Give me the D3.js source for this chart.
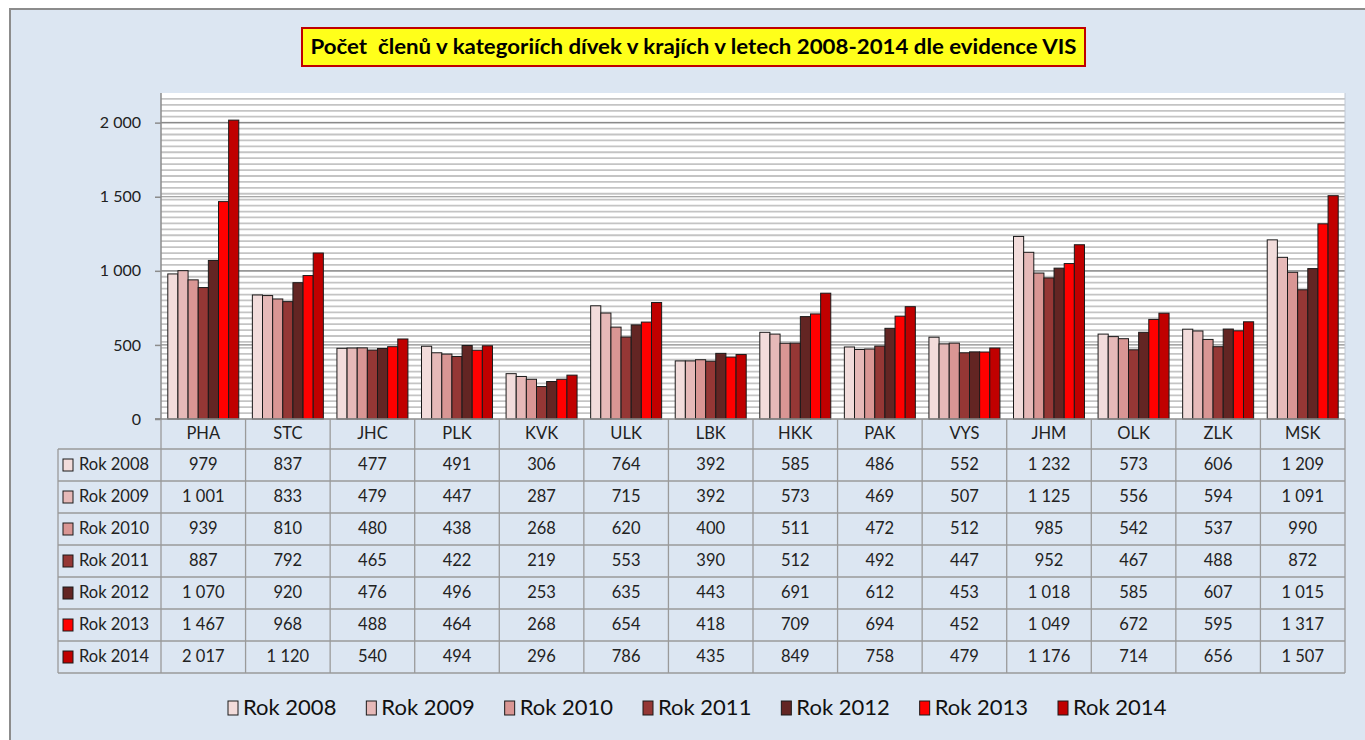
<!DOCTYPE html>
<html lang="cs">
<head>
<meta charset="UTF-8">
<script src="https://d3js.org/d3.v7.min.js"></script>
<title>Počet členů v kategoriích dívek</title>
<style>
    body { margin: 0; background: #ffffff; }
    svg { display: block; font-family: Lato, "Liberation Sans", sans-serif; }
</style>
</head>
<body>
<div id="chart"></div>
<script>
    // regions (kraje)
    const regions = ["PHA", "STC", "JHC", "PLK", "KVK", "ULK", "LBK", "HKK", "PAK", "VYS", "JHM", "OLK", "ZLK", "MSK"];
    const years = ["Rok 2008", "Rok 2009", "Rok 2010", "Rok 2011", "Rok 2012", "Rok 2013", "Rok 2014"];

    // members per year, one value per region
    const rok2008 = [979, 837, 477, 491, 306, 764, 392, 585, 486, 552, 1232, 573, 606, 1209];
    const rok2009 = [1001, 833, 479, 447, 287, 715, 392, 573, 469, 507, 1125, 556, 594, 1091];
    const rok2010 = [939, 810, 480, 438, 268, 620, 400, 511, 472, 512, 985, 542, 537, 990];
    const rok2011 = [887, 792, 465, 422, 219, 553, 390, 512, 492, 447, 952, 467, 488, 872];
    const rok2012 = [1070, 920, 476, 496, 253, 635, 443, 691, 612, 453, 1018, 585, 607, 1015];
    const rok2013 = [1467, 968, 488, 464, 268, 654, 418, 709, 694, 452, 1049, 672, 595, 1317];
    const rok2014 = [2017, 1120, 540, 494, 296, 786, 435, 849, 758, 479, 1176, 714, 656, 1507];
    const series = [rok2008, rok2009, rok2010, rok2011, rok2012, rok2013, rok2014];

    const colors = ["#f2dcdb", "#e6b9b8", "#d99694", "#953735", "#632523", "#ff0000", "#c00000"];

    const yTicks = [0, 500, 1000, 1500, 2000];
    const title = "Počet  členů v kategoriích dívek v krajích v letech 2008-2014 dle evidence VIS";

    const width = 1365, height = 740;
    const plot = { left: 161, right: 1345, top: 93, bottom: 419 };
    const headerH = 30, rowH = 32, labelLeft = 58;

    // czech number format: "1 001"
    const fmt = d3.formatLocale({ decimal: ",", thousands: "\u00a0", grouping: [3], currency: ["", " Kč"] }).format(",d");

    const svg = d3.select("#chart").append("svg")
        .attr("width", width)
        .attr("height", height);

    // background frame
    svg.append("rect")
        .attr("x", 10).attr("y", 9)
        .attr("width", width).attr("height", height)
        .attr("fill", "#dce6f2")
        .attr("stroke", "#8c8c8c")
        .attr("stroke-width", 2);

    // title box
    svg.append("rect")
        .attr("x", 302).attr("y", 28)
        .attr("width", 783).attr("height", 38)
        .attr("fill", "#ffff1a")
        .attr("stroke", "#c00000")
        .attr("stroke-width", 2);
    svg.append("text")
        .attr("x", 693.5).attr("y", 54)
        .attr("text-anchor", "middle")
        .attr("font-size", 20)
        .attr("font-weight", "bold")
        .attr("fill", "#000")
        .attr("textLength", 766)
        .attr("lengthAdjust", "spacingAndGlyphs")
        .style("white-space", "pre")
        .text(title);

    // scales
    const y = d3.scaleLinear().domain([0, 2200]).range([plot.bottom, plot.top]);
    const x0 = d3.scaleBand().domain(regions).range([plot.left, plot.right]).paddingInner(0);
    const x1 = d3.scaleBand().domain(years).range([0, x0.bandwidth()]).paddingInner(0).paddingOuter(0.67);

    // plot area
    svg.append("rect")
        .attr("x", plot.left).attr("y", plot.top)
        .attr("width", plot.right - plot.left).attr("height", plot.bottom - plot.top)
        .attr("fill", "#ffffff");

    // minor gridlines
    svg.append("g")
        .selectAll("line")
        .data(d3.range(40, 2200, 40))
        .join("line")
        .attr("x1", plot.left).attr("x2", plot.right)
        .attr("y1", d => y(d)).attr("y2", d => y(d))
        .attr("stroke", "#c4c4c4")
        .attr("stroke-width", 1.8);

    // major gridlines
    svg.append("g")
        .selectAll("line")
        .data(yTicks.slice(1))
        .join("line")
        .attr("x1", plot.left).attr("x2", plot.right)
        .attr("y1", d => y(d)).attr("y2", d => y(d))
        .attr("stroke", "#8a8a8a")
        .attr("stroke-width", 1.2);

    // y axis
    const yAxis = d3.axisLeft(y).tickValues(yTicks).tickSize(6).tickPadding(14).tickFormat(fmt);
    const gy = svg.append("g").attr("transform", `translate(${plot.left},0)`).call(yAxis);
    gy.select(".domain").attr("stroke", "#8c8c8c").attr("stroke-width", 1.5)
        .attr("d", `M-6,${plot.bottom}H0V${plot.top}`);
    gy.selectAll(".tick line").attr("stroke", "#8c8c8c").attr("stroke-width", 1.5);
    gy.selectAll(".tick text")
        .attr("font-family", "Lato, sans-serif")
        .attr("font-size", 16)
        .attr("fill", "#222");

    // bars
    const groups = svg.append("g")
        .selectAll("g")
        .data(regions)
        .join("g")
        .attr("transform", d => `translate(${x0(d)},0)`);

    groups.selectAll("rect")
        .data((d, i) => years.map((yr, j) => ({ year: yr, value: series[j][i], color: colors[j] })))
        .join("rect")
        .attr("x", d => x1(d.year))
        .attr("y", d => y(d.value))
        .attr("width", x1.bandwidth())
        .attr("height", d => y(0) - y(d.value))
        .attr("fill", d => d.color)
        .attr("stroke", "#1a1a1a")
        .attr("stroke-width", 1);

    // plot right border and x axis
    svg.append("line")
        .attr("x1", plot.right).attr("x2", plot.right)
        .attr("y1", plot.top).attr("y2", plot.bottom)
        .attr("stroke", "#c0c8d4");
    svg.append("line")
        .attr("x1", plot.left - 6).attr("x2", plot.right)
        .attr("y1", plot.bottom).attr("y2", plot.bottom)
        .attr("stroke", "#8c8c8c")
        .attr("stroke-width", 1.5);

    // data table
    const table = svg.append("g").attr("font-size", 16.5).attr("fill", "#222");
    const tableBottom = plot.bottom + headerH + rowH * years.length;
    const gridColor = "#9a9a9a";

    // header row with region names
    table.selectAll("text.head")
        .data(regions)
        .join("text")
        .attr("class", "head")
        .attr("x", d => x0(d) + x0.bandwidth() / 2)
        .attr("y", plot.bottom + headerH / 2 + 1)
        .attr("text-anchor", "middle")
        .attr("dominant-baseline", "middle")
        .text(d => d);

    // vertical lines
    table.selectAll("line.v")
        .data(regions.map(r => x0(r)).concat([plot.right]))
        .join("line")
        .attr("class", "v")
        .attr("x1", d => d).attr("x2", d => d)
        .attr("y1", plot.bottom).attr("y2", tableBottom)
        .attr("stroke", gridColor)
        .attr("stroke-width", 1.3);
    table.append("line")
        .attr("x1", labelLeft).attr("x2", labelLeft)
        .attr("y1", plot.bottom + headerH).attr("y2", tableBottom)
        .attr("stroke", gridColor)
        .attr("stroke-width", 1.3);

    // horizontal lines
    table.selectAll("line.h")
        .data(d3.range(years.length + 1))
        .join("line")
        .attr("class", "h")
        .attr("x1", labelLeft).attr("x2", plot.right)
        .attr("y1", d => plot.bottom + headerH + d * rowH)
        .attr("y2", d => plot.bottom + headerH + d * rowH)
        .attr("stroke", gridColor)
        .attr("stroke-width", 1.3);

    const rows = table.selectAll("g.row")
        .data(years)
        .join("g")
        .attr("class", "row")
        .attr("transform", (d, j) => `translate(0,${plot.bottom + headerH + j * rowH + rowH / 2})`);

    rows.append("rect")
        .attr("x", 63).attr("y", -6)
        .attr("width", 10).attr("height", 12)
        .attr("fill", (d, j) => colors[j])
        .attr("stroke", "#1a1a1a")
        .attr("stroke-width", 1);

    rows.append("text")
        .attr("x", 79).attr("y", 1)
        .attr("dominant-baseline", "middle")
        .text(d => d);

    rows.selectAll("text.val")
        .data((d, j) => series[j].map((v, i) => ({ region: regions[i], value: v })))
        .join("text")
        .attr("class", "val")
        .attr("x", d => x0(d.region) + x0.bandwidth() / 2)
        .attr("y", 1)
        .attr("text-anchor", "middle")
        .attr("dominant-baseline", "middle")
        .text(d => fmt(d.value));

    // legend
    const legendX = d3.scalePoint().domain(years).range([228, 1058]);
    const legend = svg.append("g")
        .selectAll("g")
        .data(years)
        .join("g")
        .attr("transform", d => `translate(${legendX(d)},708)`);
    legend.append("rect")
        .attr("x", 0).attr("y", -7)
        .attr("width", 10).attr("height", 14)
        .attr("fill", (d, j) => colors[j])
        .attr("stroke", "#1a1a1a")
        .attr("stroke-width", 1);
    legend.append("text")
        .attr("x", 15).attr("y", 1)
        .attr("dominant-baseline", "middle")
        .attr("font-size", 22)
        .attr("fill", "#111")
        .text(d => d);
</script>
</body>
</html>
